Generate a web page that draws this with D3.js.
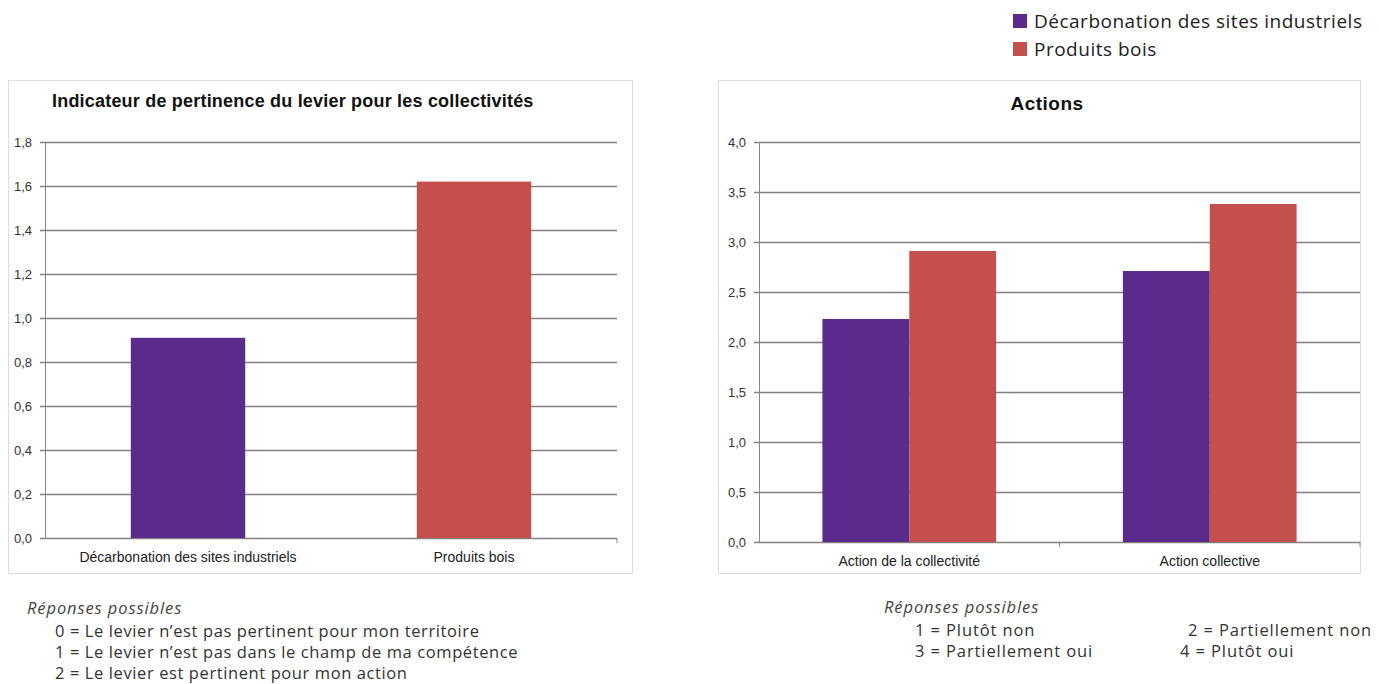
<!DOCTYPE html>
<html>
<head>
<meta charset="utf-8">
<script src="https://cdn.jsdelivr.net/npm/d3@7"></script>
<style>
body { margin: 0; background: #fff; }
svg { display: block; }
</style>
</head>
<body>
<svg id="fig" width="1379" height="684"></svg>
<script>
// data
var series_names = ["Décarbonation des sites industriels", "Produits bois"];
var series_colors = ["#5a2a8c", "#c4504e"];

var left_categories = ["Décarbonation des sites industriels", "Produits bois"];
var left_values = [0.91, 1.62];
var left_ticks = [0, 0.2, 0.4, 0.6, 0.8, 1.0, 1.2, 1.4, 1.6, 1.8];

var right_categories = ["Action de la collectivité", "Action collective"];
var right_decarb = [2.23, 2.71];
var right_bois = [2.91, 3.38];
var right_ticks = [0, 0.5, 1.0, 1.5, 2.0, 2.5, 3.0, 3.5, 4.0];

var left_notes = [
    "0 = Le levier n\u2019est pas pertinent pour mon territoire",
    "1 = Le levier n\u2019est pas dans le champ de ma compétence",
    "2 = Le levier est pertinent pour mon action"
];
var right_notes = ["1 = Plutôt non", "2 = Partiellement non", "3 = Partiellement oui", "4 = Plutôt oui"];

var svg = d3.select("#fig");
var fmt = function (d) { return d3.format(".1f")(d).replace(".", ","); };
var axisFont = "'Liberation Sans Narrow', 'Liberation Sans', Arial, sans-serif";
var noteFont = "'Open Sans', 'Noto Sans', sans-serif";

function panel(x0, y0, w, h) {
    svg.append("rect")
        .attr("x", x0 + 0.5).attr("y", y0 + 0.5)
        .attr("width", w).attr("height", h)
        .attr("fill", "#fff")
        .attr("stroke", "#e2dcdc");
}

function yAxis(g, y, ticks, x0, x1) {
    ticks.forEach(function (t) {
        g.append("line")
            .attr("x1", x0 - 5).attr("x2", x1)
            .attr("y1", Math.round(y(t)) + 0.5).attr("y2", Math.round(y(t)) + 0.5)
            .attr("stroke", "#857f7f").attr("stroke-width", 1.3);
        g.append("text")
            .attr("x", x0 - 13).attr("y", y(t) + 4.5)
            .attr("text-anchor", "end")
            .attr("font-family", axisFont)
            .attr("font-size", 13)
            .attr("fill", "#333")
            .text(fmt(t));
    });
    g.append("line")
        .attr("x1", x0 + 0.5).attr("x2", x0 + 0.5)
        .attr("y1", y(ticks[ticks.length - 1])).attr("y2", y(0))
        .attr("stroke", "#8c8686");
}

// ---------- left chart ----------
panel(8, 80, 624, 493);
svg.append("text")
    .attr("x", 52).attr("y", 107)
    .attr("font-family", "'Liberation Sans', Arial, sans-serif")
    .attr("font-weight", "bold")
    .attr("font-size", 18)
    .attr("letter-spacing", 0.2)
    .attr("fill", "#111")
    .text("Indicateur de pertinence du levier pour les collectivités");

var lx = d3.scaleBand().domain(left_categories).range([45, 617]).paddingInner(0.6).paddingOuter(0.3);
var ly = d3.scaleLinear().domain([0, 1.8]).range([538, 142]);
var lg = svg.append("g");
yAxis(lg, ly, left_ticks, 45, 617);
lg.append("line").attr("x1", 617).attr("x2", 617).attr("y1", ly(0)).attr("y2", ly(0) + 5).attr("stroke", "#8c8686");

lg.selectAll("rect.bar")
    .data(left_values)
    .enter().append("rect")
    .attr("class", "bar")
    .attr("x", function (d, i) { return lx(left_categories[i]); })
    .attr("width", lx.bandwidth())
    .attr("y", function (d) { return ly(d); })
    .attr("height", function (d) { return ly(0) - ly(d); })
    .attr("fill", function (d, i) { return series_colors[i]; });

lg.selectAll("text.cat")
    .data(left_categories)
    .enter().append("text")
    .attr("class", "cat")
    .attr("x", function (d) { return lx(d) + lx.bandwidth() / 2; })
    .attr("y", 562)
    .attr("text-anchor", "middle")
    .attr("font-family", axisFont)
    .attr("font-size", 14)
    .attr("fill", "#222")
    .text(function (d) { return d; });

// ---------- right chart ----------
panel(718, 80, 642, 493);
svg.append("text")
    .attr("x", 1047).attr("y", 110)
    .attr("text-anchor", "middle")
    .attr("font-family", "'Liberation Sans', Arial, sans-serif")
    .attr("font-weight", "bold")
    .attr("font-size", 19)
    .attr("letter-spacing", 0.5)
    .attr("fill", "#111")
    .text("Actions");

var rx = d3.scaleBand().domain(right_categories).range([759, 1360]);
var rsub = d3.scaleBand().domain(series_names).range([0, rx.bandwidth()]).paddingInner(0).paddingOuter(0.73);
var ry = d3.scaleLinear().domain([0, 4]).range([542, 142]);
var rg = svg.append("g");
yAxis(rg, ry, right_ticks, 759, 1360);
[rx.range()[0] + rx.bandwidth(), 1360].forEach(function (t) {
    rg.append("line").attr("x1", t).attr("x2", t).attr("y1", ry(0)).attr("y2", ry(0) + 5).attr("stroke", "#8c8686");
});

var rows = right_categories.map(function (c, i) {
    return { cat: c, vals: [right_decarb[i], right_bois[i]] };
});
var grp = rg.selectAll("g.grp")
    .data(rows)
    .enter().append("g")
    .attr("class", "grp")
    .attr("transform", function (d) { return "translate(" + rx(d.cat) + ",0)"; });
grp.selectAll("rect")
    .data(function (d) { return d.vals; })
    .enter().append("rect")
    .attr("x", function (d, i) { return rsub(series_names[i]); })
    .attr("width", rsub.bandwidth())
    .attr("y", function (d) { return ry(d); })
    .attr("height", function (d) { return ry(0) - ry(d); })
    .attr("fill", function (d, i) { return series_colors[i]; });

rg.selectAll("text.cat")
    .data(right_categories)
    .enter().append("text")
    .attr("class", "cat")
    .attr("x", function (d) { return rx(d) + rx.bandwidth() / 2; })
    .attr("y", 566)
    .attr("text-anchor", "middle")
    .attr("font-family", axisFont)
    .attr("font-size", 14)
    .attr("fill", "#222")
    .text(function (d) { return d; });

// ---------- legend ----------
var leg = svg.append("g").attr("transform", "translate(1013,13)");
series_names.forEach(function (s, i) {
    leg.append("rect")
        .attr("x", 0).attr("y", i * 28 + 1)
        .attr("width", 14).attr("height", 14)
        .attr("fill", series_colors[i]);
    leg.append("text")
        .attr("x", 21).attr("y", i * 28 + 15)
        .attr("font-family", noteFont)
        .attr("font-size", 19)
        .attr("letter-spacing", 0.5)
        .attr("fill", "#222")
        .text(s);
});

// ---------- notes ----------
function italicHead(x, y) {
    svg.append("text")
        .attr("x", x).attr("y", y)
        .attr("font-family", noteFont)
        .attr("font-style", "italic")
        .attr("font-size", 16.5)
        .attr("letter-spacing", 0.9)
        .attr("fill", "#444")
        .text("Réponses possibles");
}
italicHead(27, 614);
left_notes.forEach(function (t, i) {
    svg.append("text")
        .attr("x", 55).attr("y", 637 + i * 21)
        .attr("font-family", noteFont)
        .attr("font-size", 16.5)
        .attr("letter-spacing", 0.6)
        .attr("fill", "#333")
        .text(t);
});
italicHead(884, 613);
right_notes.forEach(function (t, i) {
    svg.append("text")
        .attr("x", i % 2 === 0 ? 915 : (i === 1 ? 1188 : 1180))
        .attr("y", 636 + Math.floor(i / 2) * 21)
        .attr("font-family", noteFont)
        .attr("font-size", 16.5)
        .attr("letter-spacing", 0.9)
        .attr("fill", "#333")
        .text(t);
});
</script>
</body>
</html>
